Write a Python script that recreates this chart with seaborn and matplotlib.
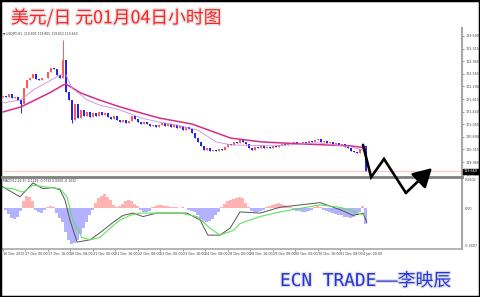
import numpy as np
import pandas as pd
import matplotlib
matplotlib.use("Agg")
import matplotlib.pyplot as plt
import matplotlib.patheffects as pe
from matplotlib.patches import Rectangle, FancyArrowPatch
import matplotlib.transforms as mtransforms
import seaborn as sns

sns.set_theme(style="white")
plt.rcParams['font.family'] = ['DejaVu Sans', 'Noto Sans CJK SC']

# ---------------- data ----------------
title_text = "美元/日 元01月04日小时图"
footer_text = "ECN TRADE——李映辰"
info_text = "▼ USDJPY,H1  119.805 119.805 119.652 119.660"
macd_text = "MACD(12,26,9) -0.1249 -0.0732 0.0000 -0.1032"

first_open = 121.88
closes = [121.90, 121.87, 121.96, 121.85, 121.87, 121.79, 121.67, 122.14, 122.38, 122.44,
          122.56, 122.41, 122.38, 122.44, 122.44, 122.62, 122.74, 122.71, 122.53, 122.44,
          122.98, 122.02, 121.79, 121.19, 121.67, 121.25, 121.49, 121.31, 121.43, 121.28,
          121.40, 121.31, 121.43, 121.34, 121.40, 121.28, 121.22, 121.31, 121.19, 121.13,
          121.19, 121.10, 121.16, 121.31, 121.22, 121.13, 121.07, 121.13, 121.07, 121.01,
          121.04, 120.98, 121.04, 121.10, 121.01, 121.07, 120.98, 121.04, 120.95, 121.01,
          120.89, 120.98, 120.92, 120.80, 120.65, 120.54, 120.42, 120.30, 120.36, 120.27,
          120.30, 120.27, 120.33, 120.30, 120.39, 120.48, 120.45, 120.54, 120.51, 120.60,
          120.54, 120.48, 120.36, 120.30, 120.39, 120.36, 120.42, 120.36, 120.39, 120.36,
          120.42, 120.39, 120.45, 120.48, 120.45, 120.51, 120.48, 120.54, 120.48, 120.51,
          120.54, 120.51, 120.57, 120.54, 120.60, 120.62, 120.54, 120.57, 120.51, 120.54,
          120.48, 120.51, 120.45, 120.48, 120.39, 120.36, 120.27, 120.24, 120.21, 120.33,
          120.42, 119.66]
spike_high = {20: 123.57, 23: 121.75}
spike_low = {6: 121.40, 23: 121.10}

ma_slow_x = [0, 6, 16, 20, 21, 26, 32, 39, 46, 52, 63, 76, 86, 99, 116, 121]
ma_slow = [121.43, 121.58, 122.02, 122.23, 122.26, 121.99, 121.79, 121.58, 121.40, 121.25,
           121.07, 120.65, 120.54, 120.48, 120.42, 120.36]

ma_fast_x = [0, 6, 10, 16, 19, 21, 23, 28, 32, 39, 46, 52, 58, 65, 71, 76, 90, 105, 116, 121]
ma_fast = [121.70, 121.79, 122.08, 122.38, 122.53, 122.53, 122.14, 121.79, 121.64, 121.49,
           121.25, 121.13, 121.04, 120.89, 120.54, 120.45, 120.42, 120.51, 120.39, 120.27]

macd_hist = [0.00, -0.01, -0.05, -0.08, -0.09, -0.07, -0.02, 0.06, 0.11, 0.10,
             0.06, -0.01, -0.03, -0.04, -0.01, 0.01, 0.02, 0.01, -0.04, -0.08,
             -0.12, -0.20, -0.27, -0.31, -0.30, -0.27, -0.22, -0.17, -0.12, -0.06,
             -0.01, 0.05, 0.09, 0.11, 0.12, 0.10, 0.07, 0.03, 0.01, 0.02,
             0.04, 0.06, 0.07, 0.06, 0.04, 0.02, -0.01, -0.03, -0.03, -0.02,
             0.01, 0.02, 0.03, 0.03, 0.02, 0.02, 0.01, 0.01, 0.01, 0.00,
             0.01, 0.00, -0.01, -0.02, -0.03, -0.06, -0.09, -0.11, -0.12, -0.11,
             -0.09, -0.06, -0.03, 0.01, 0.04, 0.06, 0.07, 0.08, 0.09, 0.10,
             0.09, 0.05, 0.01, -0.02, -0.03, -0.03, -0.02, -0.01, 0.01, 0.02,
             0.03, 0.04, 0.05, 0.04, 0.03, 0.02, 0.01, -0.01, -0.02, -0.02,
             -0.03, -0.03, -0.02, -0.01, 0.01, 0.02, 0.01, -0.01, -0.02, -0.03,
             -0.04, -0.05, -0.06, -0.06, -0.07, -0.07, -0.08, -0.07, -0.06, -0.03,
             0.02, -0.13]

macd_x = [-1.0, 5.7, 10, 13.3, 16.7, 19, 20.7, 22.3, 24.7, 29, 32.3, 36.7, 40, 43.3, 46.7,
          51.3, 55.7, 61.3, 65.7, 68.3, 72.3, 75.7, 79, 85.7, 92.3, 99, 105.7, 112.3,
          116.7, 120, 121.3]
macd_main = [0.20, 0.10, 0.22, 0.17, 0.18, 0.16, 0.07, -0.10, -0.29, -0.27, -0.21, -0.12,
             -0.06, -0.04, -0.07, -0.04, -0.04, -0.04, -0.10, -0.23, -0.23, -0.17, -0.03,
             -0.04, 0.01, 0.03, 0.05, -0.01, -0.06, -0.04, -0.12]

signal_x = [-1.0, 3.3, 6.7, 10, 15.7, 19, 21.3, 23.3, 26.3, 29, 32.3, 35.7, 39, 42.3, 45.7,
            59, 64.7, 69, 72.3, 76.7, 79, 85.7, 92.3, 99, 105.7, 112.3, 117.3, 120.7]
macd_signal = [0.18, 0.17, 0.14, 0.20, 0.18, 0.17, 0.10, -0.10, -0.25, -0.27, -0.25, -0.17,
               -0.10, -0.06, -0.04, -0.04, -0.07, -0.17, -0.23, -0.19, -0.13, -0.07, -0.03,
               0.00, 0.03, 0.01, -0.03, -0.06]

forecast_x = [120, 122.7, 127, 134.3, 143]
forecast_y = [120.45, 119.49, 120.03, 119.02, 119.76]

price_ticks = [123.690, 123.315, 122.940, 122.565, 122.190, 121.815, 121.440,
               121.065, 120.690, 120.315, 119.940, 119.565]
current_price = 119.660
macd_ticks = [0.2602, 0.0, -0.3407]
macd_tick_labels = ["0.2602", "0.00", "-0.3407"]
time_labels = ["16 Dec 2015", "17 Dec 00:00", "17 Dec 16:00", "18 Dec 08:00", "21 Dec 00:00",
               "21 Dec 16:00", "22 Dec 08:00", "23 Dec 00:00", "23 Dec 16:00", "24 Dec 08:00",
               "28 Dec 00:00", "28 Dec 16:00", "29 Dec 08:00", "30 Dec 00:00", "30 Dec 16:00",
               "31 Dec 08:00", "4 Jan 00:00"]

# ---------------- build ----------------
n = len(closes)
idx = np.arange(n)
opens = [first_open] + closes[:-1]
df = pd.DataFrame({"i": idx, "open": opens, "close": closes})
df["top"] = df[["open", "close"]].max(axis=1)
df["bot"] = df[["open", "close"]].min(axis=1)
df["high"] = [spike_high.get(k, t) for k, t in zip(df["i"], df["top"])]
df["low"] = [spike_low.get(k, b) for k, b in zip(df["i"], df["bot"])]
up = df["close"] >= df["open"]
UPC, DNC = "#ff5a5a", "#2323f0"
df["color"] = np.where(up, UPC, DNC)

W, H = 480, 297
fig = plt.figure(figsize=(W / 100, H / 100), dpi=100)
fig.patch.set_facecolor("white")

def fx(p):
    return p / W

def fy(p):
    return 1 - p / H

ax = fig.add_axes([fx(2), fy(176.5), fx(460), 148.5 / H])
axm = fig.add_axes([fx(2), fy(248.5), fx(460), 70.5 / H])
ax.set_zorder(3)
ax.patch.set_alpha(0)

XL = (-0.333, 153)
ax.set_xlim(*XL)
axm.set_xlim(*XL)
ax.set_ylim(119.509, 123.928)
axm.set_ylim(-0.345, 0.262)

# candles
ax.vlines(df["i"], df["low"], df["high"], colors=df["color"], linewidth=0.7, zorder=2)
ax.bar(df["i"], df["top"] - df["bot"], bottom=df["bot"], width=0.7,
       color=df["color"], linewidth=0, zorder=2)

# moving averages
sns.lineplot(x=ma_slow_x, y=ma_slow, ax=ax, color="#d42e86", linewidth=1.1,
             sort=False, estimator=None, zorder=3)
sns.lineplot(x=ma_fast_x, y=ma_fast, ax=ax, color="#c98be6", linewidth=0.6,
             sort=False, estimator=None, zorder=3)

ax.axhline(current_price, color="#ffc4c4", linewidth=0.8, zorder=1)

# axes styling main
for s in ["top", "left"]:
    ax.spines[s].set_visible(False)
ax.spines["right"].set_color("#a8a8a8")
ax.spines["right"].set_linewidth(1.5)
ax.spines["bottom"].set_color("#808080")
ax.spines["bottom"].set_linewidth(2)
ax.set_xticks([])
ax.yaxis.tick_right()
ax.set_yticks(price_ticks)
ax.set_yticklabels([f"{v:.3f}" for v in price_ticks])
ax.tick_params(axis="y", which="both", right=True, length=1.5, width=0.4, pad=1,
               labelsize=2.4, colors="#444444")
ax.set_xlabel("")
ax.set_ylabel("")

trans = mtransforms.blended_transform_factory(ax.transAxes, ax.transData)
ax.text(1.004, current_price, f"{current_price:.3f}", transform=trans, fontsize=2.4,
        color="white", va="center", ha="left",
        bbox=dict(boxstyle="square,pad=0.25", fc="black", ec="black"), zorder=5)
ax.text(0.002, 0.975, info_text, transform=ax.transAxes, fontsize=2.2, color="#333333",
        va="top", ha="left")

# MACD panel
hcol = np.where(np.array(macd_hist) >= 0, "#ffb2b2", "#b2b2ff")
axm.bar(idx, macd_hist, width=1.0, color=hcol, linewidth=0, zorder=1)
sns.lineplot(x=macd_x, y=macd_main, ax=axm, color="#555555", linewidth=0.7,
             sort=False, estimator=None, zorder=3)
sns.lineplot(x=signal_x, y=macd_signal, ax=axm, color="#5ee35e", linewidth=0.8,
             sort=False, estimator=None, zorder=3)
for s in ["top", "left"]:
    axm.spines[s].set_visible(False)
axm.spines["right"].set_color("#a8a8a8")
axm.spines["right"].set_linewidth(1.5)
axm.spines["bottom"].set_color("#a8a8a8")
axm.spines["bottom"].set_linewidth(1.2)
axm.yaxis.tick_right()
axm.set_yticks(macd_ticks)
axm.set_yticklabels(macd_tick_labels)
axm.tick_params(axis="y", right=True, length=0, pad=2, labelsize=2.4, colors="#444444")
labs = axm.get_yticklabels()
labs[0].set_va("top")
labs[2].set_va("bottom")
tick_pos = np.arange(len(time_labels)) * 7.5 - 0.1
axm.set_xticks(tick_pos)
axm.set_xticklabels(time_labels, ha="left")
axm.tick_params(axis="x", bottom=True, length=1.5, width=0.4, pad=1, labelsize=2.4,
                colors="#444444")
axm.set_xlabel("")
axm.set_ylabel("")
axm.text(0.002, 0.99, macd_text, transform=axm.transAxes, fontsize=2.2, color="#333333",
         va="top", ha="left")

# forecast arrow
ax.plot(forecast_x[:-1], forecast_y[:-1], color="black", linewidth=1.9, clip_on=False,
        zorder=6, solid_joinstyle="miter")
arr = FancyArrowPatch((forecast_x[-2], forecast_y[-2]), (forecast_x[-1], forecast_y[-1]),
                      arrowstyle="-|>,head_length=0.8,head_width=0.45", mutation_scale=14,
                      color="black", linewidth=1.9, clip_on=False, zorder=6,
                      shrinkA=0, shrinkB=0)
ax.add_patch(arr)

# titles
fig.text(fx(11), fy(18), title_text, fontsize=12.8, color="#ff2020", ha="left", va="center",
         family=["Noto Sans CJK SC", "DejaVu Sans"], fontweight="light",
         path_effects=[pe.Stroke(linewidth=2.2, foreground="#e4e4e4"),
                       pe.Normal()])
fig.text(fx(280), fy(281), footer_text, fontsize=12.8, color="#2233e0", ha="left",
         va="center", family=["DejaVu Sans Mono", "Noto Sans CJK SC"],
         path_effects=[pe.Stroke(linewidth=1.8, foreground="#e0e0e0"),
                       pe.Normal()])

fig.patches.append(Rectangle((0, 0), 1, 1, transform=fig.transFigure, fill=False,
                             edgecolor="black", linewidth=2.5))

fig.savefig("out.png", dpi=100, facecolor="white")
